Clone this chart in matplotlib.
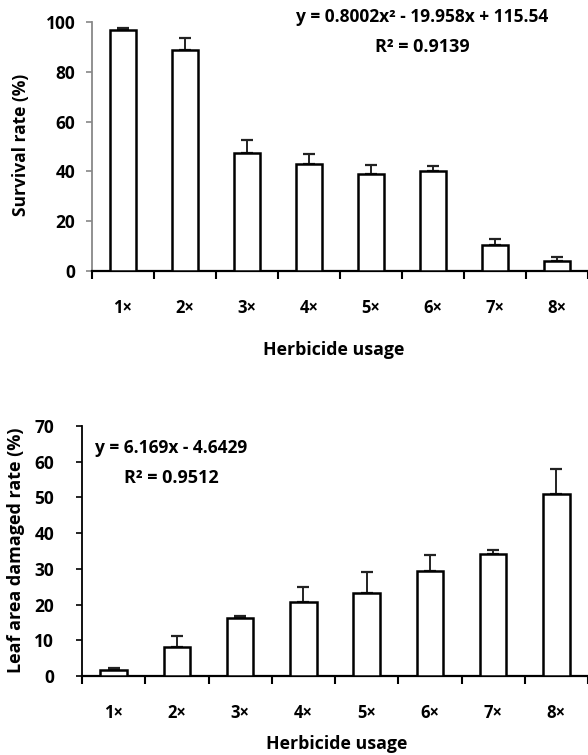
import matplotlib
matplotlib.use('Agg')
import matplotlib.pyplot as plt
import numpy as np

plt.rcParams['font.family'] = ['Open Sans', 'DejaVu Sans']
plt.rcParams['font.weight'] = 'bold'

usage = ['1×', '2×', '3×', '4×', '5×', '6×', '7×', '8×']

survival = [96.8, 88.7, 47.5, 43.1, 38.9, 40.2, 10.6, 4.1]
survival_err = [0.8, 4.9, 5.0, 4.0, 3.7, 1.8, 2.4, 1.6]

damage = [1.7, 8.2, 16.2, 20.6, 23.2, 29.5, 34.2, 50.9]
damage_err = [0.6, 3.1, 0.6, 4.4, 5.8, 4.5, 1.0, 7.1]

W, H = 588, 755
fig = plt.figure(figsize=(W / 100, H / 100), dpi=100, facecolor='white')


def px_axes(left, top, bottom, right=W):
    return fig.add_axes([left / W, 1 - bottom / H, (right - left) / W, (bottom - top) / H])


def style(ax, ymax, ystep, spine_col, ypad):
    x = np.arange(len(usage))
    ax.set_xlim(-0.5, len(usage) - 0.5)
    ax.set_ylim(0, ymax)
    ax.set_yticks(np.arange(0, ymax + 1, ystep))
    ax.set_xticks(np.arange(-0.5, len(usage), 1.0))
    ax.set_xticklabels([])
    ax.set_xticks(x, minor=True)
    ax.set_xticklabels(usage, minor=True)
    ax.tick_params(axis='x', which='major', direction='out', length=6, width=1.5)
    ax.tick_params(axis='x', which='minor', length=0, pad=20)
    ax.tick_params(axis='y', direction='out', length=4, width=1.2,
                   color=spine_col, pad=ypad)
    for lab in ax.get_xticklabels(minor=True):
        lab.set_fontweight('bold')
        lab.set_fontsize(12)
    for lab in ax.get_yticklabels():
        lab.set_fontweight('bold')
        lab.set_fontsize(12.5)
    for s in ('top', 'right'):
        ax.spines[s].set_visible(False)
    ax.spines['left'].set_color(spine_col)
    ax.spines['left'].set_linewidth(1.3)
    ax.spines['bottom'].set_linewidth(1.6)


def bars(ax, vals, errs):
    x = np.arange(len(vals))
    ax.bar(x, vals, width=0.42, color='white', edgecolor='black', linewidth=1.8, zorder=3)
    ax.errorbar(x, vals, yerr=[np.zeros(len(errs)), errs], fmt='none',
                ecolor='#222222', elinewidth=1.4, capsize=4, capthick=1.6, zorder=2)


# top panel: survival
ax1 = px_axes(92, 22, 271)
bars(ax1, survival, survival_err)
style(ax1, 100, 20, '#888888', 8)
fig.text(422 / W, 1 - 17 / H, 'y = 0.8002x² - 19.958x + 115.54', ha='center', va='center',
         fontsize=12.5, fontweight='bold')
fig.text(422 / W, 1 - 47 / H, 'R² = 0.9139', ha='center', va='center',
         fontsize=13, fontweight='bold')
fig.text(21 / W, 1 - 145 / H, 'Survival rate (%)', rotation=90, ha='center', va='center',
         fontsize=12.5, fontweight='bold')
fig.text(334 / W, 1 - 350 / H, 'Herbicide usage', ha='center', va='center',
         fontsize=12.8, fontweight='bold')

# bottom panel: leaf damage
ax2 = px_axes(82, 426, 676)
bars(ax2, damage, damage_err)
style(ax2, 70, 10, 'black', 16)
fig.text(171 / W, 1 - 448 / H, 'y = 6.169x - 4.6429', ha='center', va='center',
         fontsize=12.5, fontweight='bold')
fig.text(171 / W, 1 - 478 / H, 'R² = 0.9512', ha='center', va='center',
         fontsize=13, fontweight='bold')
fig.text(16 / W, 1 - 550 / H, 'Leaf area damaged rate (%)', rotation=90, ha='center',
         va='center', fontsize=13, fontweight='bold')
fig.text(337 / W, 1 - 744 / H, 'Herbicide usage', ha='center', va='center',
         fontsize=12.8, fontweight='bold')

fig.savefig('out.png', dpi=100, facecolor='white')
